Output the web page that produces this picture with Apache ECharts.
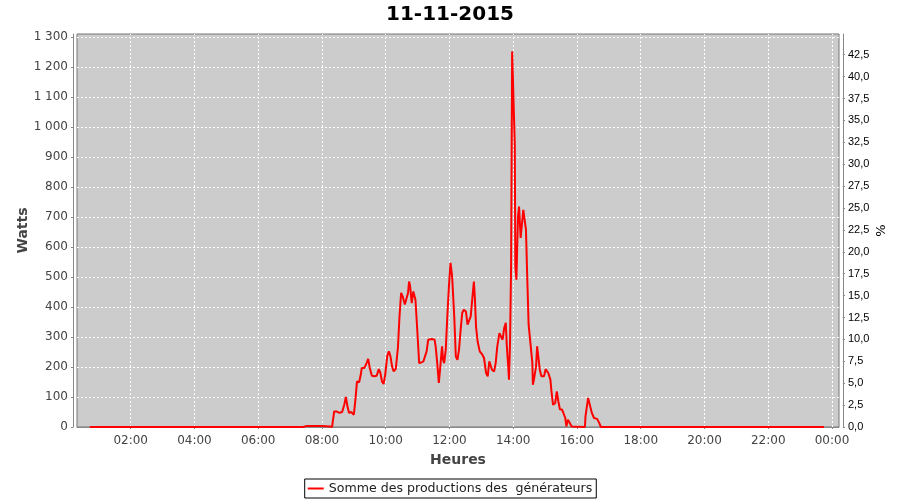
<!DOCTYPE html>
<html>
<head>
<meta charset="utf-8">
<script src="https://cdn.jsdelivr.net/npm/echarts@6/dist/echarts.min.js"></script>
<style>html,body{margin:0;padding:0;background:#fff}#chart{width:900px;height:500px}</style>
</head>
<body>
<div id="chart"></div>
<script>
const chartTitle = '11-11-2015';
const seriesName = 'Somme des productions des  générateurs';
const xTickHours = [2, 4, 6, 8, 10, 12, 14, 16, 18, 20, 22, 24];
const leftTicks = [0, 100, 200, 300, 400, 500, 600, 700, 800, 900, 1000, 1100, 1200, 1300];
const rightTicks = [0, 2.5, 5, 7.5, 10, 12.5, 15, 17.5, 20, 22.5, 25, 27.5, 30, 32.5, 35, 37.5, 40, 42.5];

const times = ["00:43","07:25","07:30","08:00","08:15","08:19","08:23","08:27","08:33","08:38","08:42","08:45","08:48","08:51","08:55","09:00",
"09:03","09:06","09:10","09:13","09:15","09:20","09:24","09:27","09:30","09:34","09:39","09:43","09:47","09:50","09:53","09:56","09:59",
"10:03","10:06","10:09","10:12","10:15","10:19","10:23","10:26","10:29","10:32","10:36","10:39","10:42","10:44","10:46","10:49","10:52","10:56","10:59",
"11:03","11:07","11:11","11:14","11:17","11:20","11:27","11:32","11:34","11:37","11:40","11:42","11:46","11:48","11:50","11:53","11:56","11:59",
"12:02","12:05","12:09","12:12","12:15","12:18","12:21","12:24","12:27","12:31","12:34","12:37","12:40","12:44","12:46","12:48","12:50","12:53","12:57",
"13:02","13:05","13:09","13:12","13:15","13:17","13:20","13:24","13:27","13:30","13:34","13:37","13:40","13:43","13:46","13:48","13:51","13:52","13:54","13:56","13:58","14:00",
"14:03","14:04","14:06","14:09","14:11","14:14","14:16","14:19","14:21","14:24","14:26","14:29","14:33","14:36","14:37","14:39","14:43","14:45","14:48","14:50","14:53","14:58","15:01",
"15:06","15:10","15:12","15:15","15:19","15:22","15:25","15:28","15:32","15:35","15:38","15:40","15:43","15:46","15:50","15:52",
"16:15","16:16","16:21","16:24","16:28","16:32","16:38","16:42","16:45","23:45"];
const watts = [0,0,3,3,2,0,52,52,47,50,74,100,69,47,50,41,
91,152,149,174,197,197,213,227,197,171,169,171,193,180,152,143,174,
238,252,235,202,185,194,265,369,447,435,408,413,447,485,469,413,452,424,335,
213,215,219,224,252,291,293,291,269,213,147,185,269,224,213,258,369,469,
547,502,369,235,224,258,324,380,391,385,341,335,369,447,485,424,335,285,252,
241,230,180,169,219,219,191,185,213,269,313,313,291,330,347,269,191,158,280,535,1252,1252,
935,535,491,702,735,630,624,724,719,658,524,341,269,213,141,158,202,269,263,191,169,169,193,
180,158,119,74,80,119,85,58,58,63,30,2,24,19,2,0,
0,35,97,97,47,30,27,13,0,0];

const toHours = t => { const [h, m] = t.split(':').map(Number); return h + m / 60; };
const seriesData = times.map((t, i) => [toHours(t), watts[i]]);

const fmtHour = v => String(Math.round(v) % 24).padStart(2, '0') + ':00';
const fmtWatts = v => v >= 1000 ? Math.floor(v / 1000) + ' ' + String(v % 1000).padStart(3, '0') : String(v);
const fmtPct = v => v.toFixed(1).replace('.', ',');

const axisGray = '#888888';
const labelGray = '#444444';

const chart = echarts.init(document.getElementById('chart'), null, {renderer: 'canvas'});
chart.setOption({
  animation: false,
  backgroundColor: '#ffffff',
  textStyle: {fontFamily: 'DejaVu Sans'},
  title: {
    text: chartTitle, left: 'center', top: 0,
    textStyle: {fontSize: 20, fontWeight: 'bold', color: '#000', fontFamily: 'DejaVu Sans'}
  },
  legend: {
    data: [seriesName], bottom: 2, left: 'center',
    icon: 'rect',
    borderColor: '#000', borderWidth: 1, borderRadius: 0,
    padding: [3, 4, 3, 3], itemWidth: 16, itemHeight: 2, itemGap: 4,
    textStyle: {fontSize: 12.6, color: '#222', fontFamily: 'DejaVu Sans', padding: [0, 0, 0, 0]}
  },
  grid: {
    left: 77, right: 61, top: 34, bottom: 73,
    show: true, backgroundColor: '#cccccc', borderColor: '#777777', borderWidth: 1
  },
  xAxis: {
    type: 'value', min: 0.316, max: 24.22, position: 'bottom', offset: 4,
    axisLine: {show: true, lineStyle: {color: axisGray}},
    axisTick: {show: true, length: 2, customValues: xTickHours, lineStyle: {color: axisGray}},
    axisLabel: {customValues: xTickHours, formatter: fmtHour, fontSize: 12, color: labelGray, margin: 4},
    splitLine: {show: false},
    name: 'Heures', nameLocation: 'middle', nameGap: 22, nameMoveOverlap: false,
    nameTextStyle: {fontSize: 14, fontWeight: 'bold', color: labelGray}
  },
  yAxis: [{
    type: 'value', min: 0, max: 1310, interval: 100, position: 'left', offset: 4,
    axisLine: {show: true, lineStyle: {color: axisGray}},
    axisTick: {show: true, length: 2, customValues: leftTicks, lineStyle: {color: axisGray}},
    axisLabel: {customValues: leftTicks, formatter: fmtWatts, fontSize: 12, color: labelGray, margin: 5},
    splitLine: {show: true, lineStyle: {color: '#ffffff', type: [2, 2], width: 1}},
    name: 'Watts', nameLocation: 'middle', nameGap: 43, nameMoveOverlap: false,
    nameTextStyle: {fontSize: 14, fontWeight: 'bold', color: labelGray}
  }, {
    type: 'value', min: 0, max: 44.86, position: 'right', offset: 4,
    axisLine: {show: true, lineStyle: {color: axisGray}},
    axisTick: {show: true, length: 2, customValues: rightTicks, lineStyle: {color: axisGray}},
    axisLabel: {customValues: rightTicks, formatter: fmtPct, fontSize: 11, color: '#000', margin: 5, fontFamily: 'Liberation Sans'},
    splitLine: {show: false},
    name: '%', nameLocation: 'middle', nameGap: 32, nameMoveOverlap: false,
    nameTextStyle: {fontSize: 13, color: '#000'}
  }],
  series: [{
    name: 'grid-x', type: 'line', data: [], z: 1, silent: true,
    markLine: {
      silent: true, symbol: ['none', 'none'], z: 1, animation: false,
      label: {show: false},
      lineStyle: {color: '#ffffff', type: [2, 2], width: 1},
      emphasis: {disabled: true},
      data: xTickHours.map(h => ({xAxis: h}))
    }
  }, {
    name: seriesName, type: 'line', data: seriesData, yAxisIndex: 0, z: 3,
    showSymbol: false, symbol: 'none',
    lineStyle: {color: '#ff0000', width: 2},
    itemStyle: {color: '#ff0000'},
    clip: true
  }]
});
</script>
</body>
</html>
